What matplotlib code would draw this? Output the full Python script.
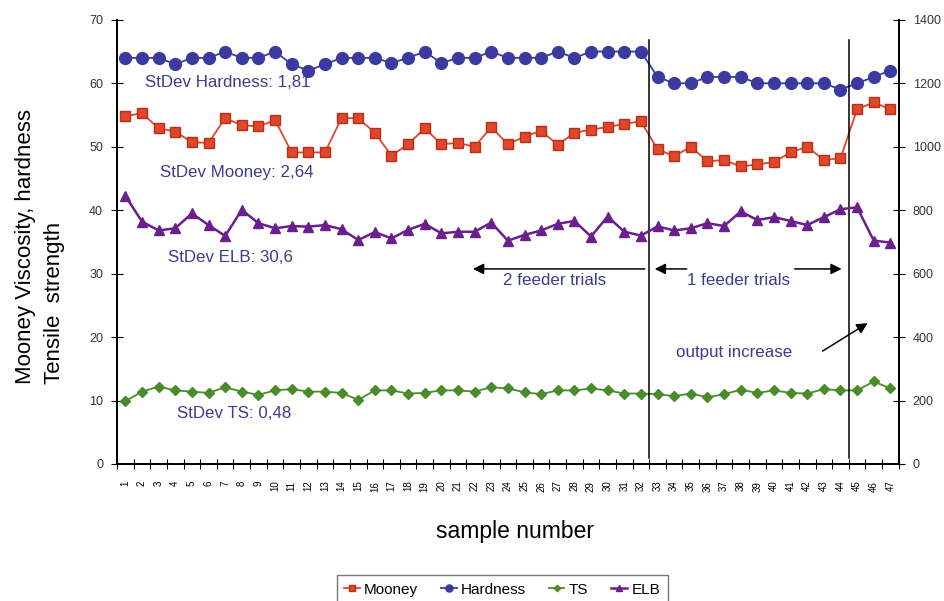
import matplotlib
matplotlib.use('Agg')
import matplotlib.pyplot as plt
import numpy as np

plt.rcParams['font.family'] = ['Liberation Sans', 'DejaVu Sans']

# sample numbers 1..47
samples = list(range(1, 48))

mooney = [54.8, 55.3, 52.9, 52.4, 50.7, 50.6, 54.5, 53.4, 53.2, 54.2,
          49.1, 49.1, 49.1, 54.5, 54.5, 52.2, 48.6, 50.4, 52.9, 50.4,
          50.6, 50.0, 53.1, 50.4, 51.6, 52.5, 50.3, 52.2, 52.7, 53.1,
          53.6, 54.0, 49.6, 48.5, 50.0, 47.7, 47.9, 46.9, 47.2, 47.6,
          49.1, 50.0, 47.9, 48.2, 55.9, 57.0, 55.9]

hardness = [64, 64, 64, 63, 64, 64, 65, 64, 64, 65,
            63, 62, 63, 64, 64, 64, 63.2, 64, 65, 63.2,
            64, 64, 65, 64, 64, 64, 65, 64, 65, 65,
            65, 65, 61, 60, 60, 61, 61, 61, 60, 60,
            60, 60, 60, 59, 60, 61, 62]

ts = [9.9, 11.4, 12.2, 11.6, 11.4, 11.2, 12.1, 11.4, 10.9, 11.6,
      11.8, 11.4, 11.4, 11.2, 10.1, 11.6, 11.6, 11.1, 11.2, 11.6,
      11.6, 11.4, 12.1, 11.9, 11.3, 11.0, 11.6, 11.6, 11.9, 11.6,
      11.1, 11.1, 11.0, 10.7, 11.1, 10.5, 11.0, 11.7, 11.2, 11.6,
      11.2, 11.1, 11.8, 11.6, 11.6, 13.0, 11.9]

# ELB on the right axis
elb = [845, 764, 736, 743, 790, 753, 719, 801, 759, 743,
       750, 748, 753, 740, 706, 731, 711, 738, 757, 727,
       732, 732, 761, 704, 722, 736, 757, 766, 717, 780,
       732, 720, 749, 736, 743, 759, 750, 796, 769, 778,
       766, 753, 778, 803, 809, 704, 698]

c_mooney = '#e0462a'
c_hard = '#3a3aa0'
c_ts = '#4a8c2c'
c_elb = '#6b1e8e'
c_text = '#3c3c8c'

fig = plt.figure(figsize=(9.44, 6.01), dpi=100)
ax = fig.add_axes([0.124, 0.228, 0.828, 0.739])
ax2 = ax.twinx()

l1, = ax.plot(samples, mooney, '-s', color=c_mooney, mec='#b8301a', ms=7.5, lw=1.3, label='Mooney')
l2, = ax.plot(samples, hardness, '-o', color=c_hard, mec=c_hard, ms=8.5, lw=1.3, label='Hardness')
l3, = ax.plot(samples, ts, '-D', color=c_ts, mec=c_ts, ms=5.5, lw=1.3, label='TS')
l4, = ax2.plot(samples, elb, '-^', color=c_elb, mec=c_elb, ms=6.5, lw=1.8, label='ELB')

ax.set_xlim(0.5, 47.5)
ax.set_ylim(0, 70)
ax2.set_ylim(0, 1400)

ax.set_yticks(np.arange(0, 71, 10))
ax2.set_yticks(np.arange(0, 1401, 200))
ax.tick_params(axis='y', direction='inout', length=8, labelsize=9, pad=6, labelcolor='#333333')
ax2.tick_params(axis='y', direction='inout', length=8, labelsize=9, pad=6, labelcolor='#333333')

# ticks between categories, labels under the points
ax.set_xticks(np.arange(0.5, 48, 1))
ax.set_xticklabels([])
ax.tick_params(axis='x', which='major', direction='inout', length=7)
ax.set_xticks(samples, minor=True)
ax.set_xticklabels([str(s) for s in samples], minor=True, rotation=90, fontsize=7)
ax.tick_params(axis='x', which='minor', length=0, pad=12)

for a in (ax, ax2):
    a.spines['top'].set_visible(False)
    for s in ('left', 'right', 'bottom'):
        a.spines[s].set_linewidth(1.3)

ax.set_ylabel('Mooney Viscosity, hardness\nTensile  strength', fontsize=16,
              multialignment='left', linespacing=1.45)
ax.yaxis.set_label_coords(-0.0985, 0.49)
ax.yaxis.label.set_verticalalignment('center')
ax.set_xlabel('sample number', fontsize=16.5)
ax.xaxis.set_label_coords(0.509, -0.153)
ax.xaxis.label.set_verticalalignment('center')

# trial boundaries
for xb in (32.5, 44.5):
    ax.plot([xb, xb], [0.95, 66.8], color='black', lw=1.1)

fs = 12.2
ax.text(2.18, 60.2, 'StDev Hardness: 1,81', color=c_text, fontsize=fs, va='center')
ax.text(3.08, 46.0, 'StDev Mooney: 2,64', color=c_text, fontsize=fs, va='center')
ax.text(3.56, 32.6, 'StDev ELB: 30,6', color=c_text, fontsize=fs, va='center')
ax.text(4.10, 8.0, 'StDev TS: 0,48', color=c_text, fontsize=fs, va='center')

ax.text(23.7, 28.85, '2 feeder trials', color=c_text, fontsize=fs, va='center')
ax.text(34.75, 28.85, '1 feeder trials', color=c_text, fontsize=fs, va='center')
ax.text(34.09, 17.5, 'output increase', color=c_text, fontsize=fs, va='center')

arrow = dict(arrowstyle='-|>', color='black', lw=1.1, mutation_scale=16,
             shrinkA=0, shrinkB=0)
ax.annotate('', xy=(21.9, 30.74), xytext=(32.23, 30.74), arrowprops=arrow)
ax.annotate('', xy=(32.83, 30.74), xytext=(34.75, 30.74), arrowprops=arrow)
ax.annotate('', xy=(44.07, 30.74), xytext=(41.25, 30.74), arrowprops=arrow)
ax.annotate('', xy=(45.63, 22.2), xytext=(42.93, 17.8), arrowprops=arrow)

leg = fig.legend([l1, l2, l3, l4], ['Mooney', 'Hardness', 'TS', 'ELB'],
                 loc='upper center', bbox_to_anchor=(0.532, 0.0433), ncol=4,
                 frameon=True, fancybox=False, fontsize=11, handlelength=1.0,
                 markerscale=0.6, columnspacing=1.5, handletextpad=0.3,
                 borderpad=0.5, borderaxespad=0)
leg.get_frame().set_edgecolor('#555555')
leg.get_frame().set_linewidth(1.0)

fig.savefig('out.png', dpi=100)
